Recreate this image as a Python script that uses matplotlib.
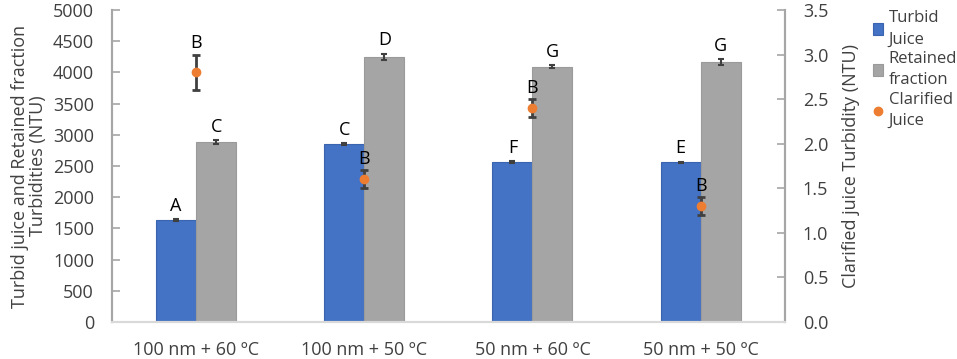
import numpy as np
import matplotlib.pyplot as plt

plt.rcParams['font.family'] = ['Open Sans', 'DejaVu Sans']

# data
categories = ['100 nm + 60 ºC', '100 nm + 50 ºC', '50 nm + 60 ºC', '50 nm + 50 ºC']
turbid = [1635, 2853, 2565, 2560]
turbid_err = [10, 10, 10, 10]
turbid_letters = ['A', 'C', 'F', 'E']
retained = [2885, 4247, 4090, 4167]
retained_err = [25, 55, 25, 45]
retained_letters = ['C', 'D', 'G', 'G']
clarified = [2.80, 1.60, 2.40, 1.30]
clarified_err = [0.20, 0.10, 0.10, 0.10]
clarified_letters = ['B', 'B', 'B', 'B']

blue = '#4472C4'
grey = '#A5A5A5'
orange = '#ED7D31'
axis_grey = '#A6A6A6'
err_col = '#404040'
txt = '#404040'

fig = plt.figure(figsize=(9.57, 3.59), dpi=100)
ax = fig.add_axes([0.117, 0.103, 0.703, 0.869])
ax2 = ax.twinx()

x = np.arange(len(categories))
w = 0.238

b1 = ax.bar(x - w / 2, turbid, w, color=blue, edgecolor='#3A64B0', linewidth=0.8,
            yerr=turbid_err, error_kw=dict(ecolor=err_col, capsize=2, elinewidth=1.5, capthick=1.5),
            label='Turbid\nJuice', zorder=2)
b2 = ax.bar(x + w / 2, retained, w, color=grey, edgecolor='#9A9A9A', linewidth=0.8,
            yerr=retained_err, error_kw=dict(ecolor=err_col, capsize=2, elinewidth=1.5, capthick=1.5),
            label='Retained\nfraction', zorder=2)

for i in range(len(x)):
    ax.text(x[i] - w / 2, turbid[i] + turbid_err[i] + 70, turbid_letters[i],
            ha='center', va='bottom', fontsize=13)
    ax.text(x[i] + w / 2, retained[i] + retained_err[i] + 70, retained_letters[i],
            ha='center', va='bottom', fontsize=13)

ax2.errorbar(x, clarified, yerr=clarified_err, fmt='o', color=orange, markersize=6,
             ecolor=err_col, elinewidth=2, capsize=3, capthick=2, zorder=3)
sc = ax2.plot([], [], 'o', color=orange, markersize=6, label='Clarified\nJuice')[0]
for i in range(len(x)):
    ax2.text(x[i], clarified[i] + clarified_err[i] + 0.03, clarified_letters[i],
             ha='center', va='bottom', fontsize=13)

ax.set_xlim(-0.5, len(x) - 0.5)
ax.set_ylim(0, 5000)
ax.set_yticks(np.arange(0, 5001, 500))
ax2.set_ylim(0, 3.5)
ax2.set_yticks(np.arange(0, 3.51, 0.5))
ax2.set_yticklabels([f'{v:.1f}' for v in np.arange(0, 3.51, 0.5)])
ax.set_xticks(x)
ax.set_xticklabels(categories)

for a in (ax, ax2):
    a.spines['top'].set_visible(False)
    a.spines['left'].set_color(axis_grey)
    a.spines['right'].set_color(axis_grey)
    a.spines['bottom'].set_color('#D9D9D9')
    for s in ('left', 'right', 'bottom'):
        a.spines[s].set_linewidth(1.5)
    a.tick_params(axis='y', direction='in', colors=axis_grey, labelcolor=txt, labelsize=13,
                  length=6, width=1.2, pad=13)
ax.tick_params(axis='x', length=0, labelsize=13, labelcolor=txt, pad=14)

ax.set_ylabel('Turbid juice and Retained fraction\nTurbidities (NTU)', fontsize=13,
              color=txt, linespacing=1.05, labelpad=4)
ax2.set_ylabel('Clarified juice Turbidity (NTU)', fontsize=13, color=txt, labelpad=10)

leg = fig.legend(handles=[b1, b2, sc], loc='upper left', bbox_to_anchor=(0.905, 0.99),
                 frameon=False, fontsize=12, handlelength=0.6, handletextpad=0.35,
                 labelspacing=0.2, borderaxespad=0, labelcolor=txt)
for t in leg.get_texts():
    t.set_linespacing(1.45)

fig.savefig('out.png', dpi=100)
